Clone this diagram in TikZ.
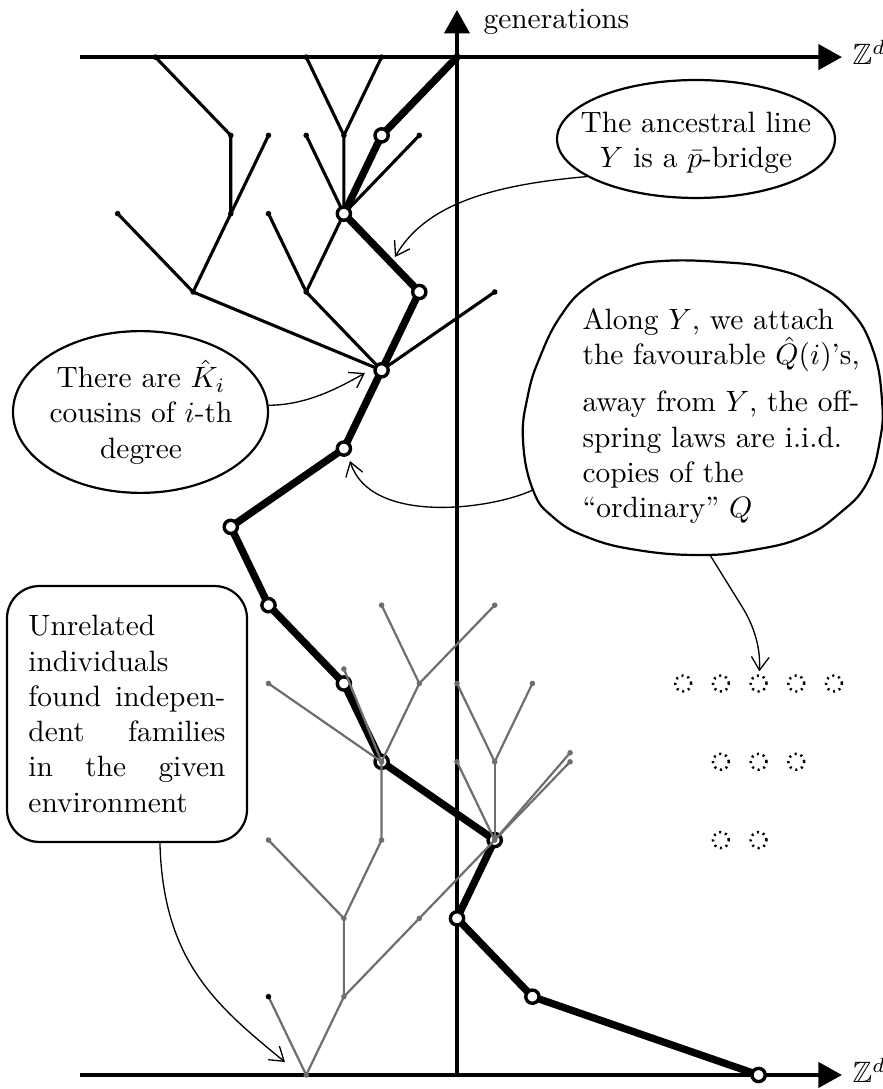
\documentclass[tikz,border=0pt]{standalone}
\usepackage{amssymb}
\usetikzlibrary{arrows.meta,shapes.geometric}
\pgfdeclarelayer{back}
\pgfdeclarelayer{front}
\pgfsetlayers{back,main,front}
\definecolor{treegray}{gray}{0.43}
\begin{document}
\begin{tikzpicture}[x=12.818pt,y=26.622pt,
  axis/.style={line width=1.35pt,-{Triangle[length=8pt,width=8.5pt]}},
  ancestral/.style={line width=2.5pt,line join=round,line cap=round},
  ycirc/.style={circle,draw,fill=white,line width=1.15pt,inner sep=0pt,minimum size=4.5pt},
  famblack/.style={line width=1.05pt,line join=round},
  famgray/.style={line width=0.75pt,draw=treegray},
  bdot/.style={circle,fill=black,inner sep=0pt,minimum size=1.9pt},
  gdot/.style={circle,fill=treegray,inner sep=0pt,minimum size=1.9pt},
  site/.style={circle,draw,dash pattern=on 0.7pt off 1.35pt,line width=0.85pt,inner sep=0pt,minimum size=5.4pt},
  callout/.style={draw,line width=0.75pt},
  pointer/.style={line width=0.45pt,-{Straight Barb[length=4.5pt,width=6pt]}},
  px/.style={shift={(-12.122,13.729)},x=0.34pt,y=-0.34pt}
]
\useasboundingbox (-12.122,-0.179) rectangle (11.300,13.729);

% ---- ancestral line Y (open circles) ----
\node[ycirc] (Y0) at (8,0) {};
\node[ycirc] (Y1) at (2,1) {};
\node[ycirc] (Y2) at (0,2) {};
\node[ycirc] (Y3) at (1,3) {};
\node[ycirc] (Y4) at (-2,4) {};
\node[ycirc] (Y5) at (-3,5) {};
\node[ycirc] (Y6) at (-5,6) {};
\node[ycirc] (Y7) at (-6,7) {};
\node[ycirc] (Y8) at (-3,8) {};
\node[ycirc] (Y9) at (-2,9) {};
\node[ycirc] (Y10) at (-1,10) {};
\node[ycirc] (Y11) at (-3,11) {};
\node[ycirc] (Y12) at (-2,12) {};
\coordinate (Y13) at (0,13);

% ---- family above the ancestral line (black) ----
\node[bdot] (Ba) at (-8,13) {};
\node[bdot] (Bb) at (-4,13) {};
\node[bdot] (Bc) at (-2,13) {};
\node[bdot] (Bd) at (-6,12) {};
\node[bdot] (Be) at (-5,12) {};
\node[bdot] (Bf) at (-4,12) {};
\node[bdot] (Bg) at (-3,12) {};
\node[bdot] (Bh) at (-1,12) {};
\node[bdot] (Bi) at (-9,11) {};
\node[bdot] (Bj) at (-6,11) {};
\node[bdot] (Bk) at (-5,11) {};
\node[bdot] (Bl) at (-7,10) {};
\node[bdot] (Bm) at (-4,10) {};
\node[bdot] (Bn) at (1,10) {};
\coordinate (Bm2) at (-3.94,9.975);

% ---- unrelated families (gray) ----
\begin{pgfonlayer}{front}
\node[gdot] (Gr) at (-4,0) {};
\node[bdot] (Gs) at (-5,1) {};
\node[gdot] (Gt) at (-3,1) {};
\node[gdot] (Gu) at (-3,2) {};
\node[gdot] (Gv) at (-1,2) {};
\node[gdot] (Gw) at (-5,3) {};
\node[gdot] (Gx) at (-2,3) {};
\node[gdot] (G3) at (1,3) {};
\node[gdot] (G4) at (-2,4) {};
\node[gdot] (Gp1) at (0,4) {};
\node[gdot] (Gp2) at (1,4) {};
\node[gdot] (Gp3) at (3,4) {};
\node[gdot] (Gp4) at (3,4.115) {};
\node[gdot] (Gq1) at (-5,5) {};
\node[gdot] (Gq2) at (-3,5.185) {};
\node[gdot] (Gq3) at (-1,5) {};
\node[gdot] (Gq4) at (0,5) {};
\node[gdot] (Gq5) at (2,5) {};
\node[gdot] (Go1) at (-2,6) {};
\node[gdot] (Go2) at (1,6) {};
\end{pgfonlayer}

% ---- axes, black family edges and the ancestral line, underneath ----
\begin{pgfonlayer}{back}
\draw[axis] (-10,0) -- (10.212,0);
\draw[axis] (-10,13) -- (10.212,13);
\draw[axis] (0,0) -- (0,13.602);
\draw[famblack] (Ba.center) -- (Bd.center) -- (Bj.center) -- (Bl.center) -- (Y9.center);
\draw[famblack] (Be.center) -- (Bj.center);
\draw[famblack] (Bi.center) -- (Bl.center);
\draw[famblack] (Bb.center) -- (Bg.center) -- (Y11.center);
\draw[famblack] (Bc.center) -- (Bg.center);
\draw[famblack] (Bf.center) -- (Y11.center);
\draw[famblack] (Bh.center) -- (Y11.center) -- (Bm.center) -- (Y9.center);
\draw[famblack] (Bk.center) -- (Bm.center);
\draw[famblack] (Bn.center) -- (Y9.center);
\draw[line width=0.5pt] (Bm2) -- (Y9.center);
\draw[ancestral] (Y0.center) -- (Y1.center) -- (Y2.center) -- (Y3.center) -- (Y4.center)
  -- (Y5.center) -- (Y6.center) -- (Y7.center) -- (Y8.center) -- (Y9.center)
  -- (Y10.center) -- (Y11.center) -- (Y12.center) -- (Y13);
\end{pgfonlayer}

% gray edges lie over the open circles
\draw[famgray] (Gr.center) -- (Gs.center);
\draw[famgray] (Gr.center) -- (Gt.center) -- (Gu.center);
\draw[famgray] (Gt.center) -- (Gv.center) -- (G3.center);
\draw[famgray] (Gu.center) -- (Gw.center);
\draw[famgray] (Gu.center) -- (Gx.center) -- (G4.center);
\draw[famgray] (G4.center) -- (Gq1.center);
\draw[famgray] (G4.center) -- (Gq2.center);
\draw[famgray] (G4.center) -- (Gq3.center);
\draw[famgray] (Gq3.center) -- (Go1.center);
\draw[famgray] (Gq3.center) -- (Go2.center);
\draw[famgray] (G3.center) -- (Gp1.center);
\draw[famgray] (G3.center) -- (Gp2.center);
\draw[famgray] (G3.center) -- (Gp3.center);
\draw[famgray] (G3.center) -- (Gp4.center);
\draw[famgray] (Gp2.center) -- (Gq4.center);
\draw[famgray] (Gp2.center) -- (Gq5.center);

% ---- empty sites ----
\node[site] (S1) at (6,5) {};
\node[site] (S2) at (7,5) {};
\node[site] (S3) at (8,5) {};
\node[site] (S4) at (9,5) {};
\node[site] (S5) at (10,5) {};
\node[site] (S6) at (7,4) {};
\node[site] (S7) at (8,4) {};
\node[site] (S8) at (9,4) {};
\node[site] (S9) at (7,3) {};
\node[site] (S10) at (8,3) {};

% ---- axis labels ----
\node[anchor=base west,inner sep=0pt] (gen) at (0.69,13.37) {generations};
\node[anchor=base west,inner sep=0pt] (Ztop) at (10.48,12.90) {$\mathbb{Z}^d$};
\node[anchor=base west,inner sep=0pt] (Zbot) at (10.48,-0.102) {$\mathbb{Z}^d$};

% ---- callouts ----
\begin{scope}[px]
  \node[callout,ellipse,inner sep=0pt,minimum width=94.5pt,minimum height=40.1pt] (E1) at (696,139) {};
  \node[align=center,inner sep=0pt] (E1t) at (696,143) {The ancestral line\\ $Y$ is a $\bar{p}$-bridge};

  \node[callout,ellipse,inner sep=0pt,minimum width=86.7pt,minimum height=55pt] (E2) at (140.5,412) {};
  \node[align=center,inner sep=0pt] (E2t) at (141,412) {There are $\hat{K}_i$\\ cousins of $i$-th\\ degree};

  \draw[callout,line join=round] plot[smooth cycle,tension=0.75] coordinates {
    (663,261) (720,262) (770,268) (813,283) (850,310) (873,350) (882,400) (880,440)
    (867,483) (840,513) (803,537) (753,550) (700,555) (637,550) (587,537) (553,517)
    (533,490) (523,440) (528,395) (540,357) (560,317) (587,287) (625,268)};
  \node[align=left,inner sep=0pt,anchor=north west] (Qt) at (582,308)
    {Along $Y$, we attach\\
     the favourable $\hat{Q}(i)$'s,\\[4pt]
     away from $Y$, the off-\\
     spring laws are i.i.d.\\
     copies of the\\
     ``ordinary'' $Q$};
  \coordinate (k3) at (533,490);
  \coordinate (k4) at (710,555);

  \node[callout,rounded corners=11pt,minimum width=81.6pt,minimum height=87pt,inner sep=0pt,align=left] (U) at (127,714)
    {Unrelated\\
     individuals\\
     \hbox to 67pt{found\hfill indepen-}\\
     \hbox to 67pt{dent\hfill families}\\
     \hbox to 67pt{in\hfill the\hfill given}\\
     environment};

  \coordinate (c1end) at (395,257);
  \coordinate (c2end) at (365,373);
  \coordinate (c3end) at (350,461);
  \coordinate (c5end) at (285,1062);

  \draw[pointer] (E1.199) .. controls (490,185) and (425,205) .. (c1end);
  \draw[pointer] (E2.3) .. controls (305,405) and (335,390) .. (c2end);
  \draw[pointer] (k3) .. controls (490,510) and (370,525) .. (c3end);
  \draw[pointer,shorten >=1pt] (k4) -- (741,605) .. controls (752,622) and (761,645) .. (S3);
  \draw[pointer] ([xshift=11.2pt]U.south) .. controls (163,960) and (215,1005) .. (c5end);
\end{scope}
\end{tikzpicture}
\end{document}
